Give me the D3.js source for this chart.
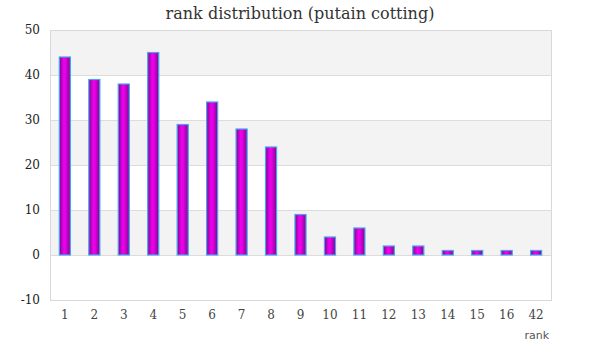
<!DOCTYPE html>
<html><head><meta charset="utf-8">
<script src="https://cdn.jsdelivr.net/npm/d3@7"></script>
<style>body{margin:0;background:#fff}svg{display:block}</style>
</head><body>
<svg id="c" width="600" height="360"></svg>
<script>
const categories = ["1","2","3","4","5","6","7","8","9","10","11","12","13","14","15","16","42"];
const values = [44,39,38,45,29,34,28,24,9,4,6,2,2,1,1,1,1];
const yTicks = [-10,0,10,20,30,40,50];
const title = "rank distribution (putain cotting)";
const xTitle = "rank";

const svg = d3.select("#c");
const m = {l:50, r:49, t:30, b:60};
const W = 600, H = 360;
const x = d3.scaleBand().domain(categories).range([m.l, W-m.r]).paddingInner(0.59).paddingOuter(0.3);
const y = d3.scaleLinear().domain([-10,50]).range([H-m.b, m.t]);

const defs = svg.append("defs");
const g = defs.append("linearGradient").attr("id","bg").attr("x1","0").attr("x2","1").attr("y1","0").attr("y2","0");
g.append("stop").attr("offset","0%").attr("stop-color","#7a0a8a");
g.append("stop").attr("offset","40%").attr("stop-color","#ee00ee");
g.append("stop").attr("offset","55%").attr("stop-color","#e600e6");
g.append("stop").attr("offset","100%").attr("stop-color","#7a0a8a");

// bands
for (let i=0;i<yTicks.length-1;i++){
  const lo = yTicks[i], hi = yTicks[i+1];
  if (i%2===1) svg.append("rect").attr("x",m.l).attr("width",W-m.r-m.l)
    .attr("y",y(hi)).attr("height",y(lo)-y(hi)).attr("fill","#f3f3f3");
}
// gridlines
svg.append("g").selectAll("line").data(yTicks).join("line")
  .attr("x1",m.l).attr("x2",W-m.r).attr("y1",d=>y(d)).attr("y2",d=>y(d))
  .attr("stroke","#dcdcdc").attr("stroke-width",1).attr("shape-rendering","crispEdges");
// frame
svg.append("rect").attr("x",m.l).attr("y",m.t).attr("width",W-m.r-m.l).attr("height",H-m.b-m.t)
  .attr("fill","none").attr("stroke","#d8d8d8").attr("shape-rendering","crispEdges");

// bars
svg.append("g").selectAll("rect").data(values).join("rect")
  .attr("x",(d,i)=>x(categories[i])+0.5).attr("width",x.bandwidth()-1)
  .attr("y",d=>y(d)).attr("height",d=>y(0)-y(d))
  .attr("fill","url(#bg)").attr("stroke","#4aa3f0").attr("stroke-width",1.2);

// y axis labels
svg.append("g").selectAll("text").data(yTicks).join("text")
  .attr("x",40).attr("y",d=>y(d)+4).attr("text-anchor","end")
  .attr("font-family","DejaVu Serif, Liberation Serif, serif").attr("font-size",12).attr("fill","#222")
  .text(d=>d);
// x axis labels
svg.append("g").selectAll("text").data(categories).join("text")
  .attr("x",d=>x(d)+x.bandwidth()/2).attr("y",H-m.b+19).attr("text-anchor","middle")
  .attr("font-family","DejaVu Serif, Liberation Serif, serif").attr("font-size",12).attr("fill","#444")
  .text(d=>d);
// x title
svg.append("text").attr("x",W-m.r-2).attr("y",339).attr("text-anchor","end")
  .attr("font-family","DejaVu Sans, sans-serif").attr("font-size",11).attr("fill","#555").text(xTitle);
// title
svg.append("text").attr("x",300).attr("y",19).attr("text-anchor","middle")
  .attr("font-family","DejaVu Serif, Liberation Serif, serif").attr("font-size",16).attr("fill","#333").text(title);
</script>
</body></html>
